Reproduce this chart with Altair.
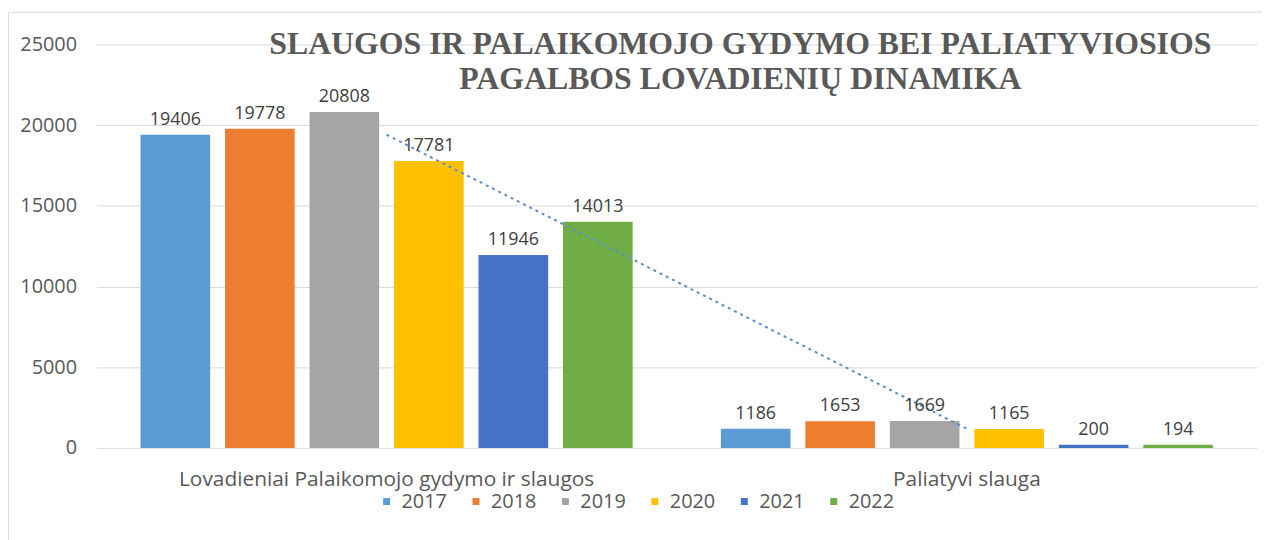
import altair as alt
import pandas as pd

categories = ["Lovadieniai Palaikomojo gydymo ir slaugos", "Paliatyvi slauga"]
years = ["2017", "2018", "2019", "2020", "2021", "2022"]
palaikomojo = [19406, 19778, 20808, 17781, 11946, 14013]
paliatyvi = [1186, 1653, 1669, 1165, 200, 194]
colors = ["#5B9BD5", "#ED7D31", "#A5A5A5", "#FFC000", "#4472C4", "#70AD47"]
y_ticks = [0, 5000, 10000, 15000, 20000, 25000]
title_lines = ["SLAUGOS IR PALAIKOMOJO GYDYMO BEI PALIATYVIOSIOS",
               "PAGALBOS LOVADIENIŲ DINAMIKA"]
trend_year = "2017"

rows = []
for cat, vals in zip(categories, [palaikomojo, paliatyvi]):
    for yr, v in zip(years, vals):
        rows.append({"cat": cat, "year": yr, "value": v})
df = pd.DataFrame(rows)
trend = df[df["year"] == trend_year]

FONT = "Open Sans"
SERIF = "'Liberation Serif', 'Times New Roman', 'DejaVu Serif', serif"
GREY = "#595959"

x_enc = alt.X(
    "cat:N", sort=categories, title=None,
    scale=alt.Scale(paddingInner=0.152, paddingOuter=0.076),
    axis=alt.Axis(labelFont=FONT, labelFontSize=21, labelColor=GREY,
                  labelPadding=21, ticks=False, tickSize=0, domain=False,
                  labelAngle=0, labelLimit=0),
)
xoff_enc = alt.XOffset("year:N", sort=years,
                       scale=alt.Scale(paddingInner=0.176, paddingOuter=0))
y_enc = alt.Y(
    "value:Q", title=None,
    scale=alt.Scale(domain=[0, 25000], nice=False),
    axis=alt.Axis(values=y_ticks, format="d", labelFont=FONT, labelFontSize=20,
                  labelColor=GREY, labelPadding=20, ticks=False, tickSize=0,
                  domain=False, grid=True, gridColor="#D9D9D9", gridWidth=1),
)

bars = alt.Chart(df).mark_bar().encode(
    x=x_enc,
    xOffset=xoff_enc,
    y=y_enc,
    color=alt.Color(
        "year:N", sort=years, title=None,
        scale=alt.Scale(domain=years, range=colors),
        legend=alt.Legend(orient="none", legendX=282, legendY=450,
                          direction="horizontal", symbolType="square",
                          symbolSize=49, symbolStrokeWidth=0,
                          labelFont=FONT, labelFontSize=20, labelColor=GREY,
                          labelOffset=5, columnPadding=19, padding=0),
    ),
)

labels = alt.Chart(df).mark_text(
    font=FONT, fontSize=18, color="#404040", baseline="alphabetic", dy=-10
).encode(
    x=alt.X("cat:N", sort=categories),
    xOffset=alt.XOffset("year:N", sort=years),
    y=alt.Y("value:Q"),
    text=alt.Text("value:Q", format="d"),
)

trendline = alt.Chart(trend).mark_line(
    color="#5B8FC7", strokeWidth=2, strokeDash=[3, 4]
).encode(
    x=alt.X("cat:N", sort=categories, bandPosition=0.5),
    y=alt.Y("value:Q"),
)

title = alt.Chart(pd.DataFrame({"t": [0]})).mark_text(
    text=title_lines, font=SERIF, fontSize=32, fontWeight="bold",
    color=GREY, lineHeight=35, baseline="alphabetic", align="center"
).encode(x=alt.value(648), y=alt.value(9.5))

border = alt.Chart(pd.DataFrame({"t": [0]})).mark_rect(
    fill="transparent", stroke="#D9D9D9", strokeWidth=1
).encode(x=alt.value(-88.5), x2=alt.value(1185),
         y=alt.value(-32.5), y2=alt.value(510))

chart = alt.layer(border, bars, trendline, labels, title).properties(
    width=1168, height=406,
    autosize=alt.AutoSizeParams(type="none"),
    padding={"left": 89, "top": 35, "right": 5, "bottom": 91},
    background="white",
).configure_view(strokeWidth=0)

chart.save("out.html", embed_options={"renderer": "svg", "actions": False})
